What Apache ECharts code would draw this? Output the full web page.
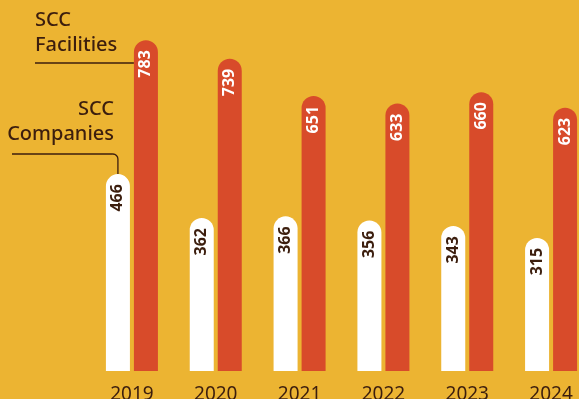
<!DOCTYPE html>
<html>
<head>
<meta charset="utf-8">
<style>
  html, body { margin: 0; padding: 0; background: #ECB432; }
  #chart { width: 579px; height: 399px; }
</style>
<script src="https://cdn.jsdelivr.net/npm/echarts@6/dist/echarts.min.js"></script>
</head>
<body>
<div id="chart"></div>
<script>
// Yearly counts of SCC companies and SCC facilities
const years = ['2019', '2020', '2021', '2022', '2023', '2024'];
const companies = [466, 362, 366, 356, 343, 315];
const facilities = [783, 739, 651, 633, 660, 623];

const BG = '#ECB432';
const ORANGE = '#D84B2A';
const DARK = '#3C1E0E';
const FONT = '"Noto Sans", sans-serif';

const chart = echarts.init(document.getElementById('chart'));

function valueLabel(color) {
  return {
    show: true,
    position: 'insideTop',
    distance: 10,
    rotate: 90,
    align: 'right',
    verticalAlign: 'middle',
    color: color,
    fontFamily: FONT,
    fontWeight: 'bold',
    fontSize: 16
  };
}

chart.setOption({
  backgroundColor: BG,
  animation: false,
  // the plot runs past the right edge, so the last pair is partly cut
  grid: { left: 90, width: 503, top: 33, height: 338, outerBoundsMode: 'none', containLabel: false },
  xAxis: {
    type: 'category',
    data: years,
    axisLine: { show: false },
    axisTick: { show: false },
    axisLabel: {
      color: DARK,
      fontFamily: FONT,
      fontSize: 19,
      margin: 14
    }
  },
  yAxis: {
    type: 'value',
    min: 0,
    max: 800,
    show: false,
    splitLine: { show: false }
  },
  series: [
    {
      name: 'SCC Companies',
      type: 'bar',
      data: companies,
      barWidth: 24,
      barGap: '16.7%',
      itemStyle: { color: '#FFFFFF', borderRadius: [12, 12, 0, 0] },
      label: valueLabel(DARK)
    },
    {
      name: 'SCC Facilities',
      type: 'bar',
      data: facilities,
      barWidth: 24,
      itemStyle: { color: ORANGE, borderRadius: [12, 12, 0, 0] },
      label: valueLabel('#FFFFFF')
    }
  ]
});

// Leader lines and captions attached to the first year's bars
const first = years[0];
const [cx] = chart.convertToPixel({ xAxisIndex: 0, yAxisIndex: 0 }, [first, 0]);
const [, compTop] = chart.convertToPixel({ xAxisIndex: 0, yAxisIndex: 0 }, [first, companies[0]]);
const compX = cx - 14;       // center of the white bar
const facLeft = cx + 2;      // left edge of the orange bar
const lineY1 = 63;
const lineY2 = 154;
const r = 5;

const captionStyle = {
  fill: DARK,
  fontFamily: FONT,
  fontSize: 20,
  fontWeight: 500,
  lineHeight: 25
};

chart.setOption({
  graphic: [
    {
      type: 'text',
      x: 35,
      y: 8,
      style: Object.assign({ text: 'SCC\nFacilities', align: 'left', verticalAlign: 'top' }, captionStyle)
    },
    {
      type: 'line',
      shape: { x1: 35, y1: lineY1, x2: facLeft, y2: lineY1 },
      style: { stroke: DARK, lineWidth: 1.3 }
    },
    {
      type: 'text',
      x: 114,
      y: 97,
      style: Object.assign({ text: 'SCC\nCompanies', align: 'right', verticalAlign: 'top' }, captionStyle)
    },
    {
      type: 'line',
      shape: { x1: 12, y1: lineY2, x2: compX - r, y2: lineY2 },
      style: { stroke: DARK, lineWidth: 1.3 }
    },
    {
      type: 'arc',
      shape: { cx: compX - r, cy: lineY2 + r, r: r, startAngle: -Math.PI / 2, endAngle: 0, clockwise: true },
      style: { stroke: DARK, fill: null, lineWidth: 1.3 }
    },
    {
      type: 'line',
      shape: { x1: compX, y1: lineY2 + r, x2: compX, y2: compTop },
      style: { stroke: DARK, lineWidth: 1.3 }
    }
  ]
});
</script>
</body>
</html>
